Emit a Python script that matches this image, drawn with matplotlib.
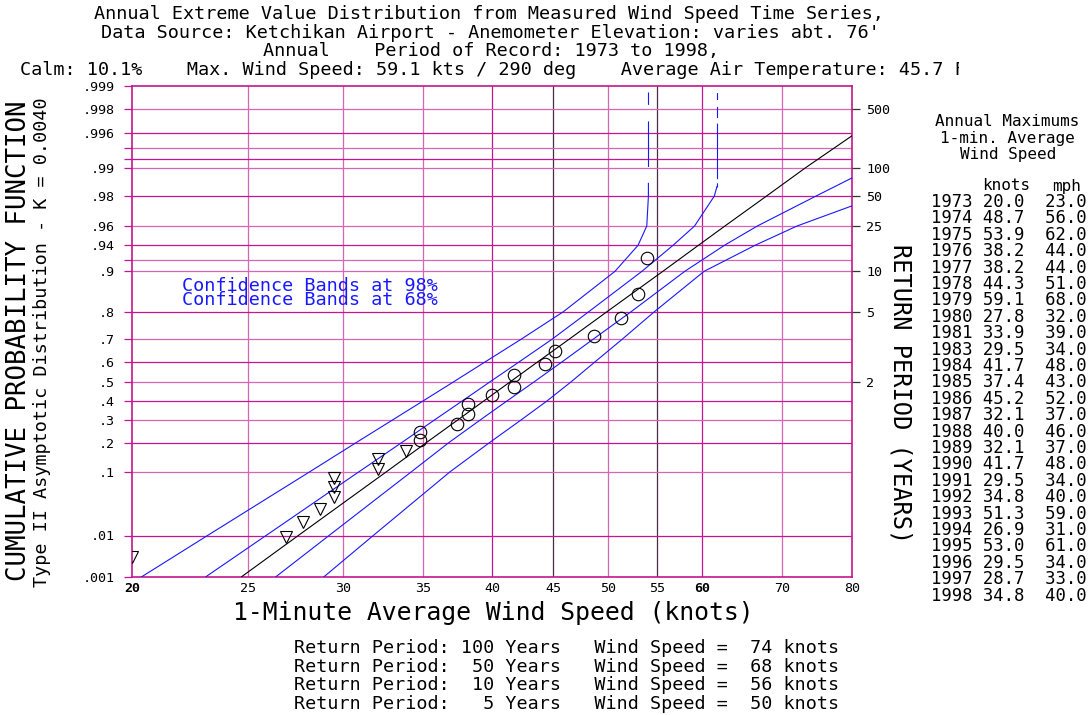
import numpy as np
import matplotlib
matplotlib.use("Agg")
import matplotlib.pyplot as plt
from matplotlib.ticker import NullLocator, NullFormatter
from matplotlib.transforms import Bbox

W, H = 1090, 715
plt.rcParams['font.family'] = ['DejaVu Sans Mono', 'DejaVu Sans']
plt.rcParams['lines.scale_dashes'] = False

# ---------------- data ----------------
years = [1973, 1974, 1975, 1976, 1977, 1978, 1979, 1980, 1981, 1983, 1984, 1985,
         1986, 1987, 1988, 1989, 1990, 1991, 1992, 1993, 1994, 1995, 1996, 1997, 1998]
knots = [20.0, 48.7, 53.9, 38.2, 38.2, 44.3, 59.1, 27.8, 33.9, 29.5, 41.7, 37.4,
         45.2, 32.1, 40.0, 32.1, 41.7, 29.5, 34.8, 51.3, 26.9, 53.0, 29.5, 28.7, 34.8]
mph = [23.0, 56.0, 62.0, 44.0, 44.0, 51.0, 68.0, 32.0, 39.0, 34.0, 48.0, 43.0,
       52.0, 37.0, 46.0, 37.0, 48.0, 34.0, 40.0, 59.0, 31.0, 61.0, 34.0, 33.0, 40.0]

# plotted points (wind speed, cumulative probability)
tri_knots = [20.0, 26.9, 27.8, 28.7, 29.5, 29.5, 29.5, 32.1, 32.1, 33.9]
tri_prob = [0.0034, 0.0092, 0.019, 0.0317, 0.0478, 0.0665, 0.0857, 0.1087, 0.1386, 0.169]
circ_knots = [34.8, 34.8, 37.4, 38.2, 38.2, 40.0, 41.7, 41.7, 44.3, 45.2, 48.7, 51.3, 53.0, 53.9]
circ_prob = [0.211, 0.247, 0.2816, 0.331, 0.3827, 0.4305, 0.474, 0.535, 0.5877, 0.6504,
             0.7126, 0.779, 0.8509, 0.9225]

# fitted distribution line
fit_prob = [0.001, 0.01, 0.1, 0.2, 0.3, 0.4, 0.5, 0.6, 0.7, 0.8, 0.9, 0.94, 0.96, 0.98, 0.99, 0.99564]
fit_knots = [24.69, 27.54, 32.64, 35.24, 37.44, 39.40, 41.44, 43.70, 46.40, 49.92, 55.6, 59.54,
             62.66, 67.9, 73.2, 80.0]

# confidence bands
band_prob = [0.001, 0.01, 0.1, 0.2, 0.3, 0.4, 0.5, 0.6, 0.7, 0.8, 0.9, 0.94, 0.96, 0.98]
lo98_knots = [20.37, 23.12, 28.16, 30.78, 33.02, 35.05, 37.16, 39.5, 42.3, 45.9, 50.7, 53.0, 53.9, 54.07]
lo68_knots = [23.05, 25.88, 30.96, 33.6, 35.8, 37.8, 39.86, 42.17, 44.9, 48.2, 53.4, 56.7, 59.1, 61.4]
hi68_knots = [26.38, 29.22, 34.25, 36.8, 39.1, 41.2, 43.4, 45.8, 48.6, 52.3, 58.0, 62.6, 66.7, 74.7]
hi98_knots = [28.94, 31.82, 36.9, 39.8, 42.3, 44.5, 46.6, 48.8, 51.4, 54.7, 60.2, 66.4, 72.0]
lo98_end = (54.07, 0.9853)
lo68_end = (61.7, 0.9841)
hi68_end = (80.0, 0.9871)
hi98_end = (80.0, 0.9748)
asym_top = 0.9988

# axes ticks
x_ticks = [20, 25, 30, 35, 40, 45, 50, 55, 60, 70, 80]
p_ticks = [0.999, 0.998, 0.996, 0.99, 0.98, 0.96, 0.94, 0.9, 0.8, 0.7, 0.6, 0.5,
           0.4, 0.3, 0.2, 0.1, 0.01, 0.001]
p_labels = ['.999', '.998', '.996', '.99', '.98', '.96', '.94', '.9', '.8', '.7', '.6', '.5',
            '.4', '.3', '.2', '.1', '.01', '.001']
p_extra = [0.994, 0.992, 0.92]
rp_ticks = [500, 100, 50, 25, 10, 5, 2]

rp_table = [100, 50, 10, 5]
rp_speed = [74, 68, 56, 50]

# ---------------- probability paper scale ----------------
_scale_probs = np.array([0.001, 0.01, 0.1, 0.2, 0.3, 0.4, 0.5, 0.6, 0.7, 0.8, 0.9, 0.94,
                         0.96, 0.98, 0.99, 0.996, 0.998, 0.999])
_scale_height = np.array([0, 41.2, 105, 134, 156.7, 176, 195, 215, 237.4, 265, 305.4, 331.4,
                          350.7, 380.7, 409, 444, 467.4, 490.7])
_KG = -np.log(-np.log(_scale_probs))


def _ext_interp(x, xp, fp):
    x = np.asarray(x, float)
    y = np.interp(x, xp, fp)
    s0 = (fp[1] - fp[0]) / (xp[1] - xp[0])
    s1 = (fp[-1] - fp[-2]) / (xp[-1] - xp[-2])
    y = np.where(x < xp[0], fp[0] + (x - xp[0]) * s0, y)
    y = np.where(x > xp[-1], fp[-1] + (x - xp[-1]) * s1, y)
    return y


def fwd(p):
    p = np.clip(np.asarray(p, float), 1e-300, 1 - 1e-16)
    return _ext_interp(-np.log(-np.log(p)), _KG, _scale_height)


def inv(h):
    g = _ext_interp(h, _scale_height, _KG)
    return np.exp(-np.exp(-g))


# ---------------- figure ----------------
MAG = '#c4168e'
PINK = '#d665b3'
DARK = '#4a2a44'
BLUE = '#1818ff'

fig = plt.figure(figsize=(W / 100, H / 100), dpi=100)
L, R, T, B = 132.3, 851.7, 86.0, 576.7
ax = fig.add_axes([L / W, 1 - B / H, (R - L) / W, (B - T) / H])
ax.set_xscale('log')
ax.set_yscale('function', functions=(fwd, inv))

# grid
vcol = {25: PINK, 30: PINK, 35: PINK, 40: MAG, 45: DARK, 50: PINK, 55: DARK, 60: MAG, 70: PINK}
for xv in x_ticks[1:-1]:
    ax.axvline(xv, color=vcol[xv], lw=0.9, zorder=1)
for i, pv in enumerate(p_ticks[1:-1] + p_extra):
    ax.axhline(pv, color=MAG if i % 2 else PINK, lw=0.9, zorder=1)

# bands
ax.plot(lo98_knots + [lo98_end[0]], band_prob + [lo98_end[1]], color=BLUE, lw=0.8, zorder=3)
ax.plot(lo68_knots + [lo68_end[0]], band_prob + [lo68_end[1]], color=BLUE, lw=0.8, zorder=3)
ax.plot(hi68_knots + [hi68_end[0]], band_prob + [hi68_end[1]], color=BLUE, lw=0.8, zorder=3)
ax.plot(hi98_knots + [hi98_end[0]], band_prob[:len(hi98_knots)] + [hi98_end[1]], color=BLUE,
        lw=0.8, zorder=3)
ax.plot([lo98_end[0]] * 2, [lo98_end[1], asym_top], color=BLUE, lw=0.8,
        linestyle=(32.8, (32.8, 11.9)), zorder=3)
ax.plot([lo68_end[0]] * 2, [lo68_end[1], asym_top], color=BLUE, lw=0.8,
        linestyle=(0, (3, 3, 40, 4, 8, 5, 5, 4)), zorder=3)

# fitted line
ax.plot(fit_knots, fit_prob, color='black', lw=0.8, zorder=3)

# data points
ax.plot(tri_knots, tri_prob, linestyle='none', marker='v', ms=8, mfc='none', mec='black',
        mew=0.8, zorder=4)
ax.plot(circ_knots, circ_prob, linestyle='none', marker='o', ms=9, mfc='none', mec='black',
        mew=0.8, zorder=4)

ax.set_xlim(20, 80)
ax.set_ylim(0.001, 0.999)

ax.xaxis.set_minor_locator(NullLocator())
ax.xaxis.set_minor_formatter(NullFormatter())
ax.set_xticks(x_ticks)
ax.set_xticklabels([str(v) for v in x_ticks])
for lab in ax.get_xticklabels():
    if lab.get_text() in ('20', '60'):
        lab.set_fontweight('bold')
ax.tick_params(axis='x', length=0, pad=4, labelsize=9.6)

ax.yaxis.set_minor_locator(NullLocator())
ax.set_yticks(p_ticks + p_extra)
ax.set_yticklabels(p_labels + [''] * len(p_extra))
ax.tick_params(axis='y', direction='out', length=6, width=0.9, color=MAG, pad=6.5,
               labelsize=9.6)
for s in ax.spines.values():
    s.set_color(MAG)
    s.set_linewidth(1.2)

ax2 = ax.twinx()
ax2.set_yscale('function', functions=(fwd, inv))
ax2.set_ylim(0.001, 0.999)
ax2.yaxis.set_minor_locator(NullLocator())
ax2.set_yticks([1 - 1 / t for t in rp_ticks])
ax2.set_yticklabels([str(t) for t in rp_ticks])
ax2.tick_params(axis='y', direction='out', length=6, width=0.9, color='#333333', pad=4.3,
                labelsize=9.6)
for s in ax2.spines.values():
    s.set_visible(False)


def ptext(x, y, s, **kw):
    return fig.text(x / W, 1 - y / H, s, **kw)


FS = 13.3
ptext(489, 14, "Annual Extreme Value Distribution from Measured Wind Speed Time Series,",
      ha='center', va='center', fontsize=FS)
ptext(490, 33, "Data Source: Ketchikan Airport - Anemometer Elevation: varies abt. 76'",
      ha='center', va='center', fontsize=FS)
ptext(263, 51, "Annual    Period of Record: 1973 to 1998,", ha='left', va='center', fontsize=FS)
t4 = ptext(20, 70, "Calm: 10.1%    Max. Wind Speed: 59.1 kts / 290 deg    "
           "Average Air Temperature: 45.7 F", ha='left', va='center', fontsize=FS)
t4.set_clip_box(Bbox.from_extents(0, 0, 959, H))
t4.set_clip_on(True)

ptext(182, 293, "Confidence Bands at 98%\nConfidence Bands at 68%", ha='left', va='center',
      fontsize=FS, color=BLUE, linespacing=0.78)

ptext(19, 341, "CUMULATIVE PROBABILITY FUNCTION", rotation=90, ha='center', va='center',
      fontsize=18.5)
ptext(42, 342, "Type II Asymptotic Distribution - K = 0.0040", rotation=90, ha='center',
      va='center', fontsize=13.3)
ptext(901, 394, "RETURN PERIOD (YEARS)", rotation=-90, ha='center', va='center', fontsize=17)
ptext(493, 613, "1-Minute Average Wind Speed (knots)", ha='center', va='center', fontsize=17.8)

# right table
ptext(1007, 122, "Annual Maximums", ha='center', va='center', fontsize=11.5)
ptext(1007, 139, "1-min. Average", ha='center', va='center', fontsize=11.5)
ptext(1008, 155, "Wind Speed", ha='center', va='center', fontsize=11.5)
ptext(1006, 186, "knots", ha='center', va='center', fontsize=11.5)
ptext(1067, 186, "mph", ha='center', va='center', fontsize=11.5)
for i, (yr, kn, mp) in enumerate(zip(years, knots, mph)):
    ptext(931, 202 + 16.4 * i, f"{yr} {kn:4.1f}  {mp:4.1f}", ha='left', va='center',
          fontsize=12.4)

# bottom return period summary
for i, (rp, sp) in enumerate(zip(rp_table, rp_speed)):
    ptext(294, 648 + 18.7 * i, f"Return Period: {rp:3d} Years   Wind Speed = {sp:3d} knots",
          ha='left', va='center', fontsize=13.2)

fig.savefig('out.png', dpi=100)
